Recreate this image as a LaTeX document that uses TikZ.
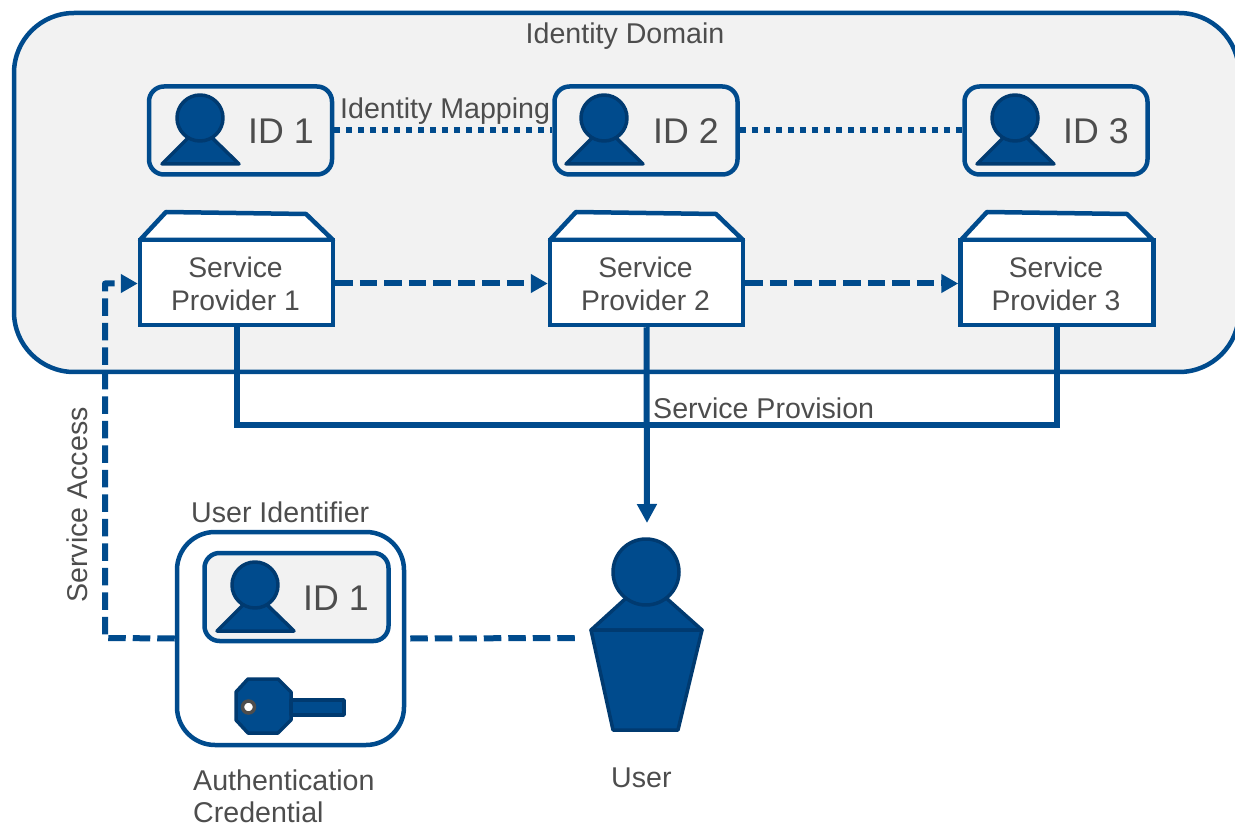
\documentclass[tikz,border=0pt]{standalone}
\usepackage{fontspec}
\setmainfont{Liberation Sans}
\usetikzlibrary{arrows.meta}
\definecolor{blu}{HTML}{004B8D}
\definecolor{dkblu}{HTML}{003A70}
\definecolor{pale}{HTML}{F2F2F2}
\definecolor{txt}{HTML}{4D4D4D}
\tikzset{
  x=1pt,y=-1pt,
  lbl/.style={text=txt,inner sep=0pt,font=\fontsize{28.6}{33}\selectfont},
  idbox/.style={draw=blu,line width=4.5pt,fill=pale,rounded corners=15pt,minimum width=183pt,minimum height=88pt,inner sep=0pt},
  spbox/.style={draw=blu,line width=4.5pt,fill=white,minimum width=193pt,minimum height=85pt,inner sep=0pt},
  sptext/.style={text=txt,align=center,inner sep=0pt,font=\fontsize{28.3}{33}\selectfont},
  roof/.style={draw=blu,line width=4.5pt,fill=white,line join=round},
  glyph/.style={draw=dkblu,line width=3.5pt,fill=blu,line join=round},
  dotline/.style={blu,line width=6pt,dash pattern=on 6pt off 6pt},
  dashline/.style={blu,line width=6pt,dash pattern=on 17.5pt off 7pt,line join=round},
  solidline/.style={blu,line width=6pt},
  tip/.style={-{Triangle[length=17pt,width=18pt]}},
  idtext/.style={text=txt,inner sep=0pt,font=\fontsize{35.7}{40}\selectfont},
  person/.pic={
    \path[glyph] (-38,46) -- (0,8) -- (39,46) -- cycle;
    \path[glyph] (0,0) circle (23);
  }
}
\begin{document}
\begin{tikzpicture}
\useasboundingbox (0,0) rectangle (1235,826);
\clip (0,0) rectangle (1235,826);
% domain
\node[draw=blu,line width=4.5pt,fill=pale,rounded corners=60pt,minimum width=1225pt,minimum height=359pt,inner sep=0pt] (domain) at (626.5,192.5) {};
\node[lbl,anchor=base] (domlbl) at (625,44) {Identity Domain};
% id boxes
\node[idbox] (id1) at (240.5,130.5) {};
\node[idbox] (id2) at (646,130.5) {};
\node[idbox] (id3) at (1056,130.5) {};
\pic at (200,118) {person};
\pic at (604,118) {person};
\pic at (1015,118) {person};
\node[idtext,anchor=base west] (t1) at (248,144) {ID 1};
\node[idtext,anchor=base west] (t2) at (653,144) {ID 2};
\node[idtext,anchor=base west] (t3) at (1063,144) {ID 3};
\draw[dotline] (id1.east) -- (id2.west);
\draw[dotline] (id2.east) -- (id3.west);
\node[lbl,anchor=base west] (map) at (340,119) {Identity Mapping};
% service providers
\path[roof] (140,240) -- (166,212) -- (306,214) -- (333,240) -- cycle;
\path[roof] (550,240) -- (576,212) -- (716,214) -- (743,240) -- cycle;
\path[roof] (961,240) -- (987,212) -- (1127,214) -- (1153,240) -- cycle;
\node[spbox] (sp1) at (236.5,282.5) {};
\node[spbox] (sp2) at (646.5,282.5) {};
\node[spbox] (sp3) at (1057,282.5) {};
\node[sptext] (s1) at (235.5,284) {Service\\Provider 1};
\node[sptext] (s2) at (645.5,284) {Service\\Provider 2};
\node[sptext] (s3) at (1056,284) {Service\\Provider 3};
\draw[dashline,tip] ([yshift=-1pt]sp1.east) -- ([yshift=-1pt]sp2.west);
\draw[dashline,tip] ([yshift=-1pt]sp2.east) -- ([yshift=-1pt]sp3.west);
% provision
\coordinate (pc) at (647,425);
\coordinate (ut) at (647,523);
\draw[solidline,line join=miter] (sp1.south) |- (pc) -| (sp3.south);
\draw[solidline,-{Triangle[length=19pt,width=19pt]}] (sp2.south) -- (ut);
\node[lbl,anchor=base west] (prov) at (653,418) {Service Provision};
% credential box
\node[draw=blu,line width=4.5pt,fill=white,rounded corners=38pt,minimum width=227pt,minimum height=213pt,inner sep=0pt] (cred) at (290.5,638.5) {};
\node[idbox,minimum width=184pt] (id4) at (296.5,597) {};
\pic at (255,585) {person};
\node[idtext,anchor=base west] (t4) at (303,610) {ID 1};
\path[glyph] (248,679) -- (278,679) -- (291,692) -- (291,720) -- (278,733) -- (248,733) -- (236,720) -- (236,692) -- cycle;
\path[glyph] (291,700) rectangle (344,715);
\draw[draw=txt,line width=3.5pt,fill=white] (248.5,707) circle (6);
% access
\coordinate (corner) at (105,638);
\draw[dashline,tip] (cred.west) -- (corner) |- ([yshift=-1pt]sp1.west);
\node[lbl,rotate=90,anchor=base] (acc) at (87,505) {Service Access};
% user
\path[glyph] (591,630) -- (646,580) -- (702,630) -- cycle;
\path[glyph] (591,630) -- (702,630) -- (678,730) -- (613,730) -- cycle;
\path[glyph] (646,572) circle (33);
\coordinate (userl) at (575,638);
\draw[dashline] (cred.east) ++(4,0) -- (userl);
% labels
\node[lbl,anchor=base west] (uid) at (191,522) {User Identifier};
\node[lbl,anchor=base west] (auth) at (193,790) {Authentication};
\node[lbl,anchor=base west] (crd) at (193,822) {Credential};
\node[lbl,anchor=base west] (usr) at (611,787) {User};
\end{tikzpicture}
\end{document}
